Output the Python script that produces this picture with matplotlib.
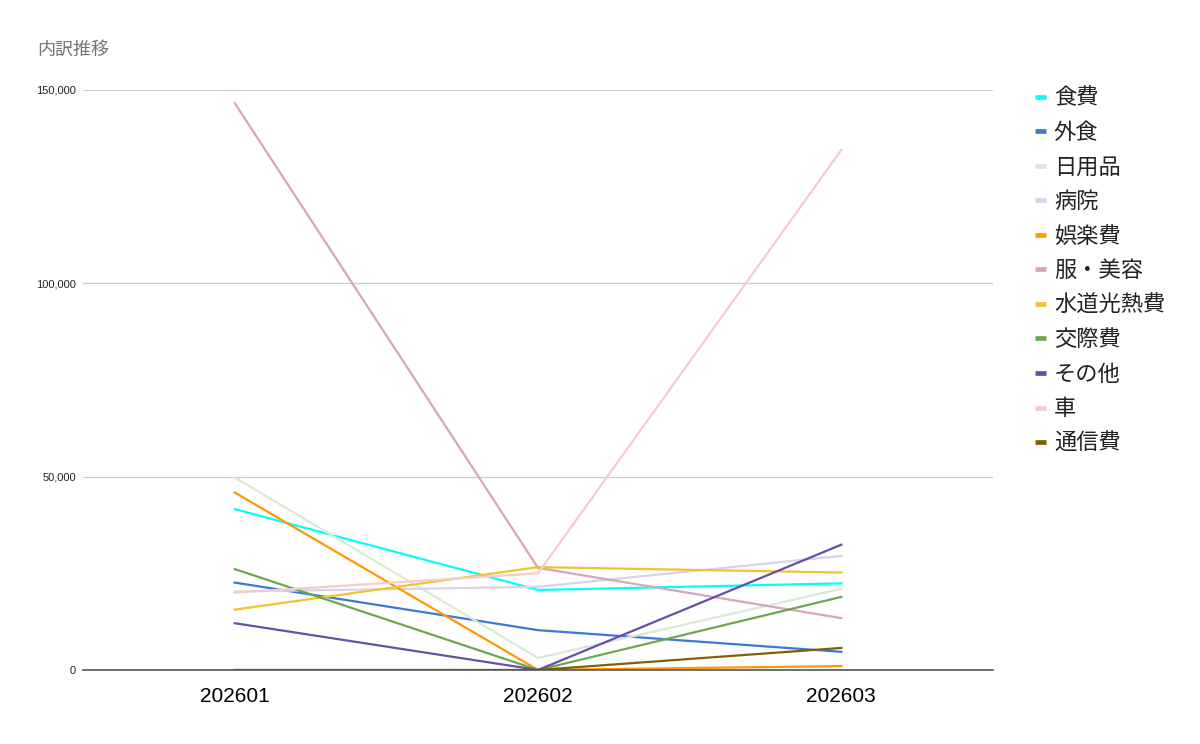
import matplotlib.pyplot as plt
from matplotlib.ticker import FuncFormatter

plt.rcParams['font.family'] = ['Liberation Sans', 'Noto Sans CJK JP', 'DejaVu Sans']

months = ['202601', '202602', '202603']

shokuhi = [41600, 20700, 22400]
gaishoku = [22600, 10300, 4700]
nichiyouhin = [49800, 3100, 21000]
byouin = [20300, 21500, 29500]
goraku = [45900, 0, 1000]
fuku_biyou = [146600, 26400, 13400]
suidou = [15600, 26600, 25200]
kousai = [26100, 0, 18900]
sonota = [12100, 0, 32400]
kuruma = [20000, 25000, 134500]
tsushin = [0, 0, 5700]

series = [
    ('食費', shokuhi, '#00ffff'),
    ('外食', gaishoku, '#3c78d8'),
    ('日用品', nichiyouhin, '#d9ead3'),
    ('病院', byouin, '#d9d2e9'),
    ('娯楽費', goraku, '#ff9900'),
    ('服・美容', fuku_biyou, '#d5a6bd'),
    ('水道光熱費', suidou, '#f1c232'),
    ('交際費', kousai, '#6aa84f'),
    ('その他', sonota, '#674ea7'),
    ('車', kuruma, '#f4cccc'),
    ('通信費', tsushin, '#7f6000'),
]

fig = plt.figure(figsize=(12, 7.44), dpi=100)
ax = fig.add_axes([0.0692, 0.0995, 0.7583, 0.7796])

x = list(range(len(months)))
for name, vals, col in series:
    ax.plot(x, vals, color=col, lw=1.6, label=name, solid_joinstyle='miter')

ax.set_xlim(-0.5, 2.5)
ax.set_ylim(0, 150000)
ax.set_yticks([0, 50000, 100000, 150000])
ax.yaxis.set_major_formatter(FuncFormatter(lambda v, p: f'{int(v):,}'))
ax.set_xticks(x)
ax.set_xticklabels(months, fontsize=15)
ax.tick_params(axis='y', labelsize=8, length=0, pad=5, colors='#222222')
ax.tick_params(axis='x', length=0, pad=12, colors='#000000')
ax.grid(axis='y', color='#cccccc', lw=0.9)
ax.set_axisbelow(True)
for s in ['top', 'right', 'left']:
    ax.spines[s].set_visible(False)
ax.spines['bottom'].set_color('#555555')
ax.spines['bottom'].set_linewidth(1.2)

fig.text(0.031, 0.933, '内訳推移', fontsize=13, color='#757575', va='center',
         family=['Noto Sans CJK JP', 'DejaVu Sans'])

leg = ax.legend(loc='upper left', bbox_to_anchor=(0.8625, 0.884), bbox_transform=fig.transFigure,
                frameon=False, handlelength=0.5, handletextpad=0.35,
                labelspacing=0.52, borderaxespad=0, borderpad=0,
                prop={'family': ['Noto Sans CJK JP', 'DejaVu Sans'], 'size': 16})
for h in leg.get_lines():
    h.set_linewidth(3.4)
    h.set_solid_capstyle('butt')
for t in leg.get_texts():
    t.set_color('#222222')

fig.savefig('out.png', dpi=100)
